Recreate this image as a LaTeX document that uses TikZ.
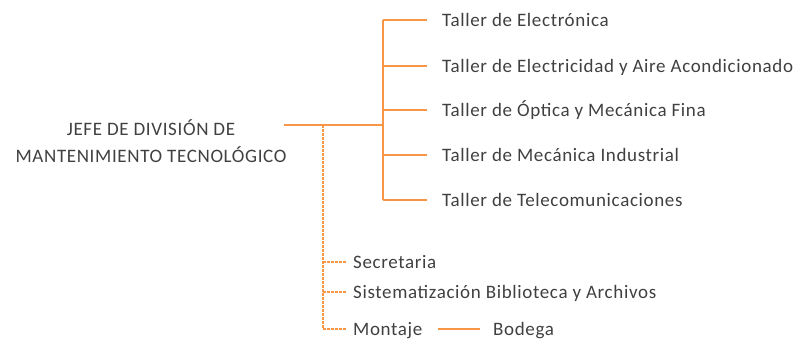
\documentclass[tikz,border=0pt]{standalone}
\usepackage{fontspec}
\setmainfont[LetterSpace=3.4]{Carlito}
\definecolor{naranja}{HTML}{F79646}
\definecolor{texto}{HTML}{404040}

\begin{document}
\begin{tikzpicture}[x=1pt, y=-1pt,
	font=\fontsize{19}{27}\selectfont,
	area/.style={text=texto, inner sep=0pt, text height=12pt, text depth=0pt, anchor=west},
	jefe/.style={text=texto, inner sep=0pt, align=center},
	linea/.style={draw=naranja, line width=1.3pt},
	punteada/.style={draw=naranja, line width=1.1pt, dash pattern=on 2.5pt off 1.5pt}]
		\useasboundingbox (0,0) rectangle (799,338);
		\node[jefe] (jefe) at (151,141) {JEFE DE DIVISIÓN DE\\MANTENIMIENTO TECNOLÓGICO};
		\coordinate (salida) at (284,125);
		\coordinate (apoyo) at (323,125);
		\coordinate (tronco) at (383,125);
		\node[area] (electronica) at (442,20) {Taller de Electrónica};
		\node[area] (electricidad) at (442,66) {Taller de Electricidad y Aire Acondicionado};
		\node[area] (optica) at (442,110) {Taller de Óptica y Mecánica Fina};
		\node[area] (mecanica) at (442,155) {Taller de Mecánica Industrial};
		\node[area] (telecom) at (442,200) {Taller de Telecomunicaciones};
		\node[area] (secretaria) at (353,262) {Secretaria};
		\node[area] (biblioteca) at (353,292) {Sistematización Biblioteca y Archivos};
		\node[area] (montaje) at (353,329) {Montaje};
		\node[area] (bodega) at (493,329) {Bodega};
		\draw[linea] (salida) -- (tronco);
		\draw[linea] (tronco |- electronica) -- (tronco |- telecom);
		\draw[linea, shorten >=15pt] (tronco |- electronica) -- (electronica.west);
		\draw[linea, shorten >=15pt] (tronco |- electricidad) -- (electricidad.west);
		\draw[linea, shorten >=15pt] (tronco |- optica) -- (optica.west);
		\draw[linea, shorten >=15pt] (tronco |- mecanica) -- (mecanica.west);
		\draw[linea, shorten >=15pt] (tronco |- telecom) -- (telecom.west);
		\draw[punteada] (apoyo) -- (apoyo |- montaje);
		\draw[punteada, shorten >=6pt] (apoyo |- secretaria) -- (secretaria.west);
		\draw[punteada, shorten >=6pt] (apoyo |- biblioteca) -- (biblioteca.west);
		\draw[punteada, shorten >=6pt] (apoyo |- montaje) -- (montaje.west);
		\draw[linea, shorten <=15pt, shorten >=13pt] (montaje.east) -- (bodega.west);
\end{tikzpicture}
\end{document}
